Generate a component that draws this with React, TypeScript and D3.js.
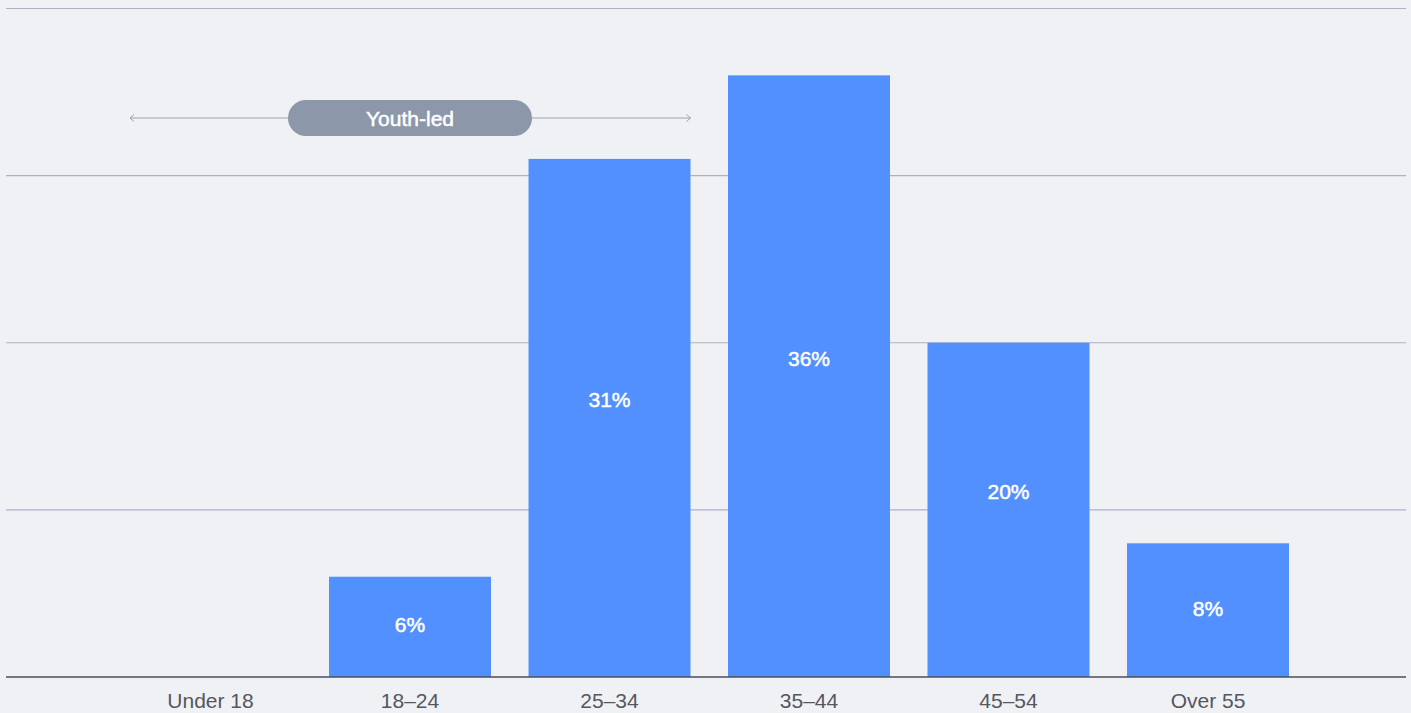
import React, { useEffect } from "react";
import * as d3 from "d3";

const categories = ["Under 18", "18–24", "25–34", "35–44", "45–54", "Over 55"];
const values = [0, 6, 31, 36, 20, 8];
const gridTicks = [0, 10, 20, 30, 40];
const annotationLabel = "Youth-led";
const annotationSpan = ["Under 18", "25–34"];

const W = 1411;
const H = 713;

export default function App() {
  useEffect(() => {
    document.body.style.margin = "0";
    document.body.style.background = "#f0f1f5";
  }, []);

  const x = d3
    .scaleBand<string>()
    .domain(categories)
    .range([9.8, 1408.7])
    .paddingInner(0.188)
    .paddingOuter(0.6);
  const y = d3.scaleLinear().domain([0, 40]).range([677, 8.5]);

  const font = "'Helvetica Neue', Helvetica, 'Liberation Sans', Arial, sans-serif";
  const arrowY = 118;
  const arrowX0 = 130;
  const arrowX1 = (x(annotationSpan[1]) as number) + x.bandwidth();
  const pillCx = 410;
  const pillW = 244;
  const pillH = 36;

  return (
    <svg width={W} height={H} style={{ display: "block", background: "#f0f1f5" }}>
      <rect x={0} y={0} width={W} height={H} fill="#f0f1f5" />
      {gridTicks
        .filter((t) => t > 0)
        .map((t) => (
          <line key={t} x1={6} x2={1406} y1={y(t)} y2={y(t)} stroke="#aab2c8" strokeWidth={1.2} />
        ))}
      {categories.map((c, i) => {
        if (values[i] <= 0) return null;
        const top = y(values[i]);
        const h = y(0) - top;
        const cy = (top + y(0)) / 2 + (h >= 200 ? -18 : -2);
        return (
          <g key={c}>
            <rect x={x(c)} y={top} width={x.bandwidth()} height={h} fill="#5290ff" />
            <text
              x={(x(c) as number) + x.bandwidth() / 2}
              y={cy + 7.5}
              textAnchor="middle"
              fill="#ffffff"
              stroke="#ffffff"
              strokeWidth={0.5}
              fontFamily={font}
              fontSize={21}
            >
              {values[i]}%
            </text>
          </g>
        );
      })}
      <line x1={6} x2={1406} y1={y(0)} y2={y(0)} stroke="#4a4e5a" strokeWidth={1.5} />
      {categories.map((c) => (
        <text
          key={c}
          x={(x(c) as number) + x.bandwidth() / 2}
          y={708}
          textAnchor="middle"
          fill="#55575e"
          fontFamily={font}
          fontSize={21}
        >
          {c}
        </text>
      ))}
      {/* annotation */}
      <line x1={arrowX0} x2={arrowX1} y1={arrowY} y2={arrowY} stroke="#98a1b8" strokeWidth={1.2} />
      <path
        d={`M${arrowX0 + 4},${arrowY - 3.5} L${arrowX0},${arrowY} L${arrowX0 + 4},${arrowY + 3.5}`}
        fill="none"
        stroke="#98a1b8"
        strokeWidth={1}
      />
      <path
        d={`M${arrowX1 - 4},${arrowY - 3.5} L${arrowX1},${arrowY} L${arrowX1 - 4},${arrowY + 3.5}`}
        fill="none"
        stroke="#98a1b8"
        strokeWidth={1}
      />
      <rect
        x={pillCx - pillW / 2}
        y={arrowY - pillH / 2}
        width={pillW}
        height={pillH}
        rx={18}
        fill="#8d97aa"
      />
      <text
        x={pillCx}
        y={arrowY + 7.5}
        textAnchor="middle"
        fill="#ffffff"
        stroke="#ffffff"
        strokeWidth={0.5}
        fontFamily={font}
        fontSize={21}
      >
        {annotationLabel}
      </text>
    </svg>
  );
}
